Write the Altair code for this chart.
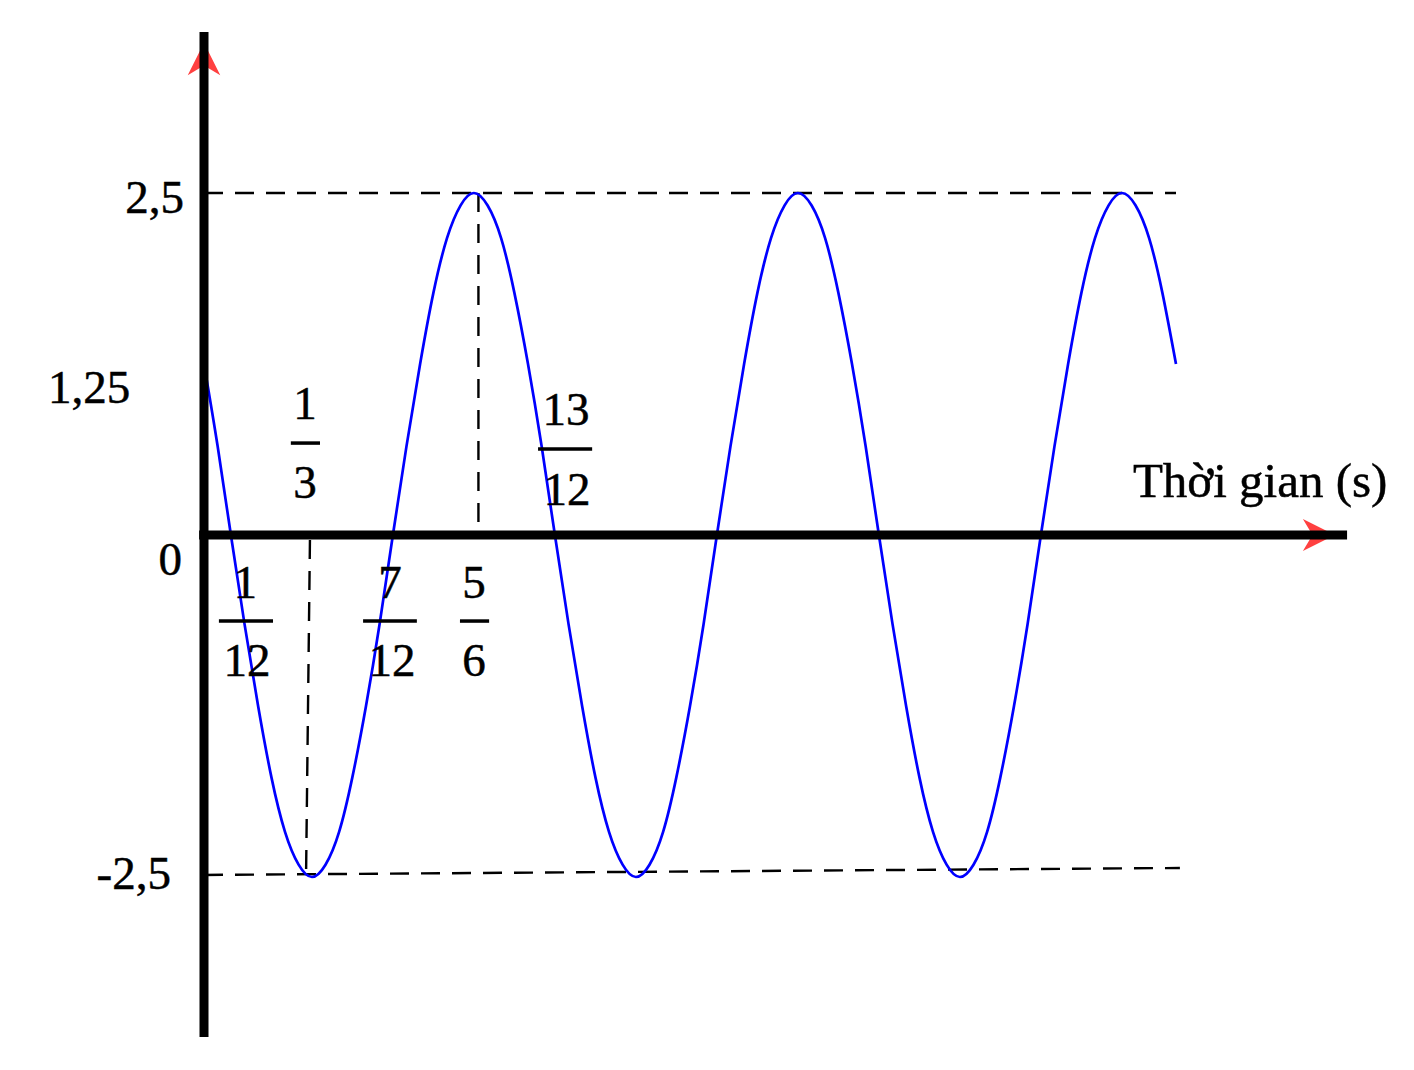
import altair as alt
import pandas as pd

# ---- curve data (t in s, displacement) ----
time_s = [
    0.000, 0.042, 0.083, 0.125, 0.167, 0.208, 0.250, 0.292, 0.333, 0.375, 0.417, 0.458,
    0.500, 0.542, 0.583, 0.625, 0.667, 0.708, 0.750, 0.792, 0.833, 0.875, 0.917, 0.958,
    1.000, 1.042, 1.083, 1.125, 1.167, 1.208, 1.250, 1.292, 1.333, 1.375, 1.417, 1.458,
    1.500, 1.542, 1.583, 1.625, 1.667, 1.708, 1.750, 1.792, 1.833, 1.875, 1.917, 1.958,
    2.000, 2.042, 2.083, 2.125, 2.167, 2.208, 2.250, 2.292, 2.333, 2.375, 2.417, 2.458,
    2.500, 2.542, 2.583, 2.625, 2.667, 2.708, 2.750, 2.792, 2.833, 2.875, 2.917, 2.958,
    3.000,
]
displacement = [
    1.25, 0.65, 0.00, -0.65, -1.25, -1.77, -2.17, -2.41, -2.50, -2.41, -2.17, -1.77,
    -1.25, -0.65, 0.00, 0.65, 1.25, 1.77, 2.17, 2.41, 2.50, 2.41, 2.17, 1.77,
    1.25, 0.65, 0.00, -0.65, -1.25, -1.77, -2.17, -2.41, -2.50, -2.41, -2.17, -1.77,
    -1.25, -0.65, 0.00, 0.65, 1.25, 1.77, 2.17, 2.41, 2.50, 2.41, 2.17, 1.77,
    1.25, 0.65, 0.00, -0.65, -1.25, -1.77, -2.17, -2.41, -2.50, -2.41, -2.17, -1.77,
    -1.25, -0.65, 0.00, 0.65, 1.25, 1.77, 2.17, 2.41, 2.50, 2.41, 2.17, 1.77,
    1.25,
]

# ---- y-axis value labels ----
y_label_text = ["2,5", "1,25", "0", "-2,5"]
y_label_t = [-0.062, -0.228, -0.068, -0.102]
y_label_y = [2.354, 0.965, -0.292, -2.588]

# ---- fraction labels on the time axis ----
frac_num = ["1", "13", "1", "7", "5"]
frac_den = ["3", "12", "12", "12", "6"]
frac_num_t = [0.312, 1.117, 0.127, 0.574, 0.833]
frac_den_t = [0.312, 1.120, 0.133, 0.580, 0.833]
frac_num_y = [0.848, 0.804, -0.460, -0.460, -0.460]
frac_den_y = [0.270, 0.219, -1.031, -1.031, -1.031]
frac_bar_t1 = [0.268, 1.031, 0.046, 0.491, 0.790]
frac_bar_t2 = [0.358, 1.198, 0.213, 0.657, 0.880]
frac_bar_y = [0.672, 0.629, -0.629, -0.629, -0.629]

axis_title = "Thời gian (s)"

# ---- scales (plot area 1390 x 1040) ----
T_MIN, T_MAX = -196 / 324, (1390 - 196) / 324
Y_MIN, Y_MAX = (527 - 1040) / 136.8, 527 / 136.8
xs = alt.Scale(domain=[T_MIN, T_MAX], nice=False, zero=False)
ys = alt.Scale(domain=[Y_MIN, Y_MAX], nice=False, zero=False)

FONT = "Liberation Serif"
TXT = dict(font=FONT, color="black", stroke="black", strokeWidth=0.5)

def X(f):
    return alt.X(f, type="quantitative", scale=xs, axis=None)

def Y(f):
    return alt.Y(f, type="quantitative", scale=ys, axis=None)

# dashed guide lines
guides = pd.DataFrame({
    "t": [0.0, 0.0, 0.847, 0.327],
    "t2": [3.0, 3.012, 0.847, 0.315],
    "y": [2.5, -2.485, 2.5, -0.037],
    "y2": [2.5, -2.434, 0.03, -2.485],
})
dashed = alt.Chart(guides).mark_rule(
    color="black", strokeWidth=2.4, strokeDash=[19, 12], strokeCap="butt"
).encode(x=X("t"), x2="t2", y=Y("y"), y2="y2")

curve_df = pd.DataFrame({"t": time_s, "x": displacement})
curve = alt.Chart(curve_df).mark_line(
    color="#0000FF", strokeWidth=2.7, interpolate="natural"
).encode(x=X("t"), y=Y("x"))

# arrows
right_arrow = alt.Chart(pd.DataFrame({"t": [3.441], "y": [0.0]})).mark_point(
    shape="M1,0 L-1,-1 L-0.4,0 L-1,1 Z", filled=True, size=1024,
    color="#FF4040", opacity=1, strokeWidth=0
).encode(x=X("t"), y=Y("y"))
up_arrow = alt.Chart(pd.DataFrame({"t": [0.0], "y": [3.48]})).mark_point(
    shape="M0,-1 L-1,1 L0,0.4 L1,1 Z", filled=True, size=1060,
    color="#FF4040", opacity=1, strokeWidth=0
).encode(x=X("t"), y=Y("y"))

# main axis lines
axes_df = pd.DataFrame({
    "t": [-0.015, 0.0],
    "t2": [3.528, 0.0],
    "y": [0.0, 3.677],
    "y2": [0.0, -3.67],
})
axes = alt.Chart(axes_df).mark_rule(
    color="black", strokeWidth=9, strokeCap="butt"
).encode(x=X("t"), x2="t2", y=Y("y"), y2="y2")

# y labels
ylab = alt.Chart(pd.DataFrame({
    "t": y_label_t, "y": y_label_y, "s": y_label_text
})).mark_text(
    align="right", baseline="alphabetic", fontSize=47, **TXT
).encode(x=X("t"), y=Y("y"), text="s:N")

# fractions
num = alt.Chart(pd.DataFrame({
    "t": frac_num_t, "y": frac_num_y, "s": frac_num
})).mark_text(
    align="center", baseline="alphabetic", fontSize=47, **TXT
).encode(x=X("t"), y=Y("y"), text="s:N")
den = alt.Chart(pd.DataFrame({
    "t": frac_den_t, "y": frac_den_y, "s": frac_den
})).mark_text(
    align="center", baseline="alphabetic", fontSize=47, **TXT
).encode(x=X("t"), y=Y("y"), text="s:N")
bars = alt.Chart(pd.DataFrame({
    "t": frac_bar_t1, "t2": frac_bar_t2, "y": frac_bar_y
})).mark_rule(
    color="black", strokeWidth=3.5, strokeCap="butt"
).encode(x=X("t"), x2="t2", y=Y("y"))

title = alt.Chart(pd.DataFrame({
    "t": [2.867], "y": [0.278], "s": [axis_title]
})).mark_text(
    align="left", baseline="alphabetic", fontSize=49, **TXT
).encode(x=X("t"), y=Y("y"), text="s:N")

chart = alt.layer(
    dashed, curve, right_arrow, up_arrow, axes, ylab, num, den, bars, title
).properties(
    width=1390, height=1040,
    autosize=alt.AutoSizeParams(type="none"),
    padding=0,
).configure_view(stroke=None)

chart.save("out.html", embed_options={"renderer": "svg", "actions": False})
